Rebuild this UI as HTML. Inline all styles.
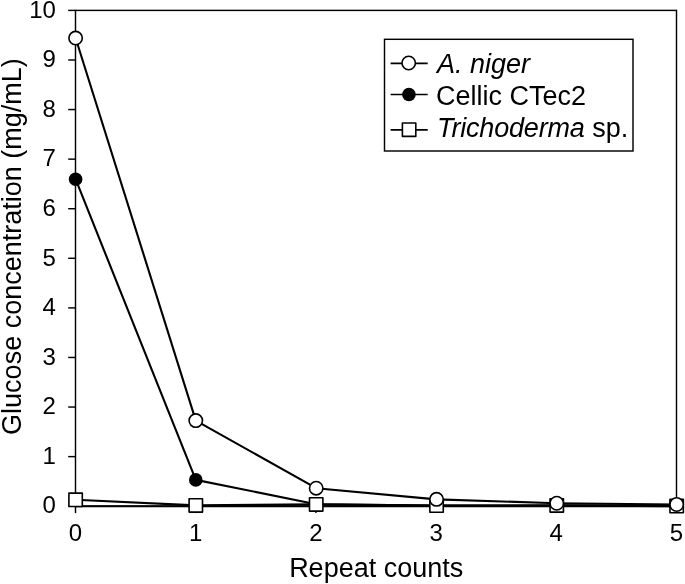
<!DOCTYPE html>
<html lang="en"><head><meta charset="utf-8"><title>Glucose concentration vs repeat counts</title>
<style>html,body{margin:0;padding:0;background:#fff}svg{display:block}text{font-family:"Liberation Sans",sans-serif;fill:#000}</style>
</head><body>
<svg width="685" height="584" viewBox="0 0 685 584">
<rect x="0" y="0" width="685" height="584" fill="#fff"/>
<g fill="none" stroke="#000" stroke-width="1.45">
<rect x="75.5" y="10.4" width="601.0" height="495.80"/>
<line x1="68.2" y1="506.20" x2="75.5" y2="506.20"/>
<line x1="68.2" y1="456.62" x2="75.5" y2="456.62"/>
<line x1="68.2" y1="407.04" x2="75.5" y2="407.04"/>
<line x1="68.2" y1="357.46" x2="75.5" y2="357.46"/>
<line x1="68.2" y1="307.88" x2="75.5" y2="307.88"/>
<line x1="68.2" y1="258.30" x2="75.5" y2="258.30"/>
<line x1="68.2" y1="208.72" x2="75.5" y2="208.72"/>
<line x1="68.2" y1="159.14" x2="75.5" y2="159.14"/>
<line x1="68.2" y1="109.56" x2="75.5" y2="109.56"/>
<line x1="68.2" y1="59.98" x2="75.5" y2="59.98"/>
<line x1="68.2" y1="10.40" x2="75.5" y2="10.40"/>
<line x1="75.50" y1="506.2" x2="75.50" y2="513.1"/>
<line x1="195.70" y1="506.2" x2="195.70" y2="513.1"/>
<line x1="315.90" y1="506.2" x2="315.90" y2="513.1"/>
<line x1="436.10" y1="506.2" x2="436.10" y2="513.1"/>
<line x1="556.30" y1="506.2" x2="556.30" y2="513.1"/>
<line x1="676.50" y1="506.2" x2="676.50" y2="513.1"/>
<line x1="75.5" y1="506.25" x2="676.5" y2="506.25" stroke-width="1.8"/>
</g>
<g font-size="24" text-anchor="end">
<text x="55.9" y="513.40">0</text>
<text x="55.9" y="463.82">1</text>
<text x="55.9" y="414.24">2</text>
<text x="55.9" y="364.66">3</text>
<text x="55.9" y="315.08">4</text>
<text x="55.9" y="265.50">5</text>
<text x="55.9" y="215.92">6</text>
<text x="55.9" y="166.34">7</text>
<text x="55.9" y="116.76">8</text>
<text x="55.9" y="67.18">9</text>
<text x="55.9" y="17.60">10</text>
</g>
<g font-size="24" text-anchor="middle">
<text x="75.50" y="541.3">0</text>
<text x="195.70" y="541.3">1</text>
<text x="315.90" y="541.3">2</text>
<text x="436.10" y="541.3">3</text>
<text x="556.30" y="541.3">4</text>
<text x="676.50" y="541.3">5</text>
</g>
<text font-size="27" text-anchor="middle" x="376.2" y="577">Repeat counts</text>
<text font-size="27" transform="translate(21.1 434.9) rotate(-90)">Glucose concentration (mg/mL)</text>
<g stroke="#000" stroke-width="2.1" fill="none" stroke-linejoin="round">
<polyline points="75.60,179.20 195.80,479.90 316.20,504.20 436.55,505.50 556.75,505.50 676.65,505.90"/>
<polyline points="75.60,499.80 195.80,505.40 316.20,504.40 436.55,505.55 556.75,505.40 676.65,506.10"/>
<polyline points="75.60,38.05 195.80,420.60 316.20,488.20 436.55,499.35 556.75,503.25 676.65,504.50"/>
</g>
<g fill="#000" stroke="none">
<circle cx="75.60" cy="179.20" r="6.8"/>
<circle cx="195.80" cy="479.90" r="6.8"/>
<circle cx="316.20" cy="504.20" r="6.8"/>
<circle cx="436.55" cy="505.50" r="6.8"/>
<circle cx="556.75" cy="505.50" r="6.8"/>
<circle cx="676.65" cy="505.90" r="6.8"/>
</g>
<g fill="#fff" stroke="#000" stroke-width="1.6" stroke-linejoin="round">
<rect x="68.90" y="493.10" width="13.4" height="13.4"/>
<rect x="189.10" y="498.70" width="13.4" height="13.4"/>
<rect x="309.50" y="497.70" width="13.4" height="13.4"/>
<rect x="429.85" y="498.85" width="13.4" height="13.4"/>
<rect x="550.05" y="498.70" width="13.4" height="13.4"/>
<rect x="669.95" y="499.40" width="13.4" height="13.4"/>
<circle cx="75.60" cy="38.05" r="6.7"/>
<circle cx="195.80" cy="420.60" r="6.7"/>
<circle cx="316.20" cy="488.20" r="6.7"/>
<circle cx="436.55" cy="499.35" r="6.7"/>
<circle cx="556.75" cy="503.25" r="6.7"/>
<circle cx="676.65" cy="504.50" r="6.7"/>
</g>
<rect x="384.5" y="39.3" width="248.5" height="111.7" fill="#fff" stroke="#000" stroke-width="1.45"/>
<g stroke="#000" stroke-width="1.7">
<line x1="390.6" y1="63.35" x2="427.7" y2="63.35"/>
<line x1="390.6" y1="94.5" x2="427.7" y2="94.5"/>
<line x1="390.6" y1="129.95" x2="427.7" y2="129.95"/>
</g>
<circle cx="408.7" cy="63.0" r="6.7" fill="#fff" stroke="#000" stroke-width="1.6"/>
<circle cx="408.9" cy="94.5" r="6.8" fill="#000"/>
<rect x="402.40" y="123.00" width="13.4" height="13.4" fill="#fff" stroke="#000" stroke-width="1.6" stroke-linejoin="round"/>
<g font-size="27">
<text x="437" y="72.6" font-style="italic">A. niger</text>
<text x="435.9" y="104.6">Cellic CTec2</text>
<text x="437.1" y="137.1"><tspan font-style="italic" letter-spacing="-0.18">Trichoderma</tspan> sp.</text>
</g>
</svg>
</body></html>
